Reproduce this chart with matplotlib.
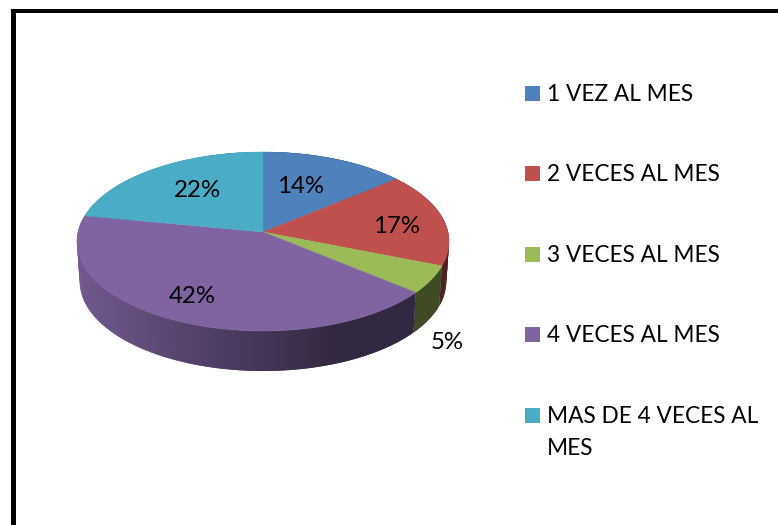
import numpy as np
import matplotlib
matplotlib.use("Agg")
import matplotlib.pyplot as plt
from matplotlib.patches import Polygon, Rectangle
from matplotlib.colors import to_rgb

# Data
categories = ["1 VEZ AL MES", "2 VECES AL MES", "3 VECES AL MES", "4 VECES AL MES", "MAS DE 4 VECES AL\nMES"]
percentages = [14, 17, 5, 42, 22]
colors = ["#4f81bd", "#c0504d", "#9bbb59", "#8064a2", "#4bacc6"]

# Layout (pixel space of the reference)
W, H = 778, 525
CX, CY = 263, 232
A, B, K = 185, 88.5, 0.106   # perspective projection of the disc
DEPTH = 40
FONT = "Lato"
FS = 16.3
FS_LABEL = 17.3
label_pos = [(301, 186.5), (396.5, 226.5), (447.5, 342.5), (192, 296.5), (197, 190.5)]
legend_y = [93, 173, 254, 334, 415]

fig = plt.figure(figsize=(W / 100, H / 100), dpi=100)
ax = fig.add_axes([0, 0, 1, 1])
ax.set_xlim(0, W)
ax.set_ylim(H, 0)
ax.axis("off")


def project(theta, radius=1.0, depth=0.0):
    """theta: clockwise from 12 o'clock, radians."""
    X, Y = radius * np.sin(theta), radius * np.cos(theta)
    d = 1 + K * Y
    scale = 1 - 0.015 * depth / DEPTH
    return CX + scale * A * X / d, CY - B * Y / d + depth


def shade(x):
    return np.clip(0.88 - 0.50 * (x - 80) / 270, 0.40, 0.88)


fractions = np.array(percentages, dtype=float) / sum(percentages)
edges = np.concatenate([[0], np.cumsum(fractions)]) * 2 * np.pi

# Sides: overlapping strips so that no seams appear between them
for i, col in enumerate(colors):
    base = np.array(to_rgb(col))
    n = max(int(np.degrees(edges[i + 1] - edges[i])), 2)
    th = np.linspace(edges[i], edges[i + 1], n + 1)
    for j in range(n - 1, -1, -1):
        t0, t1 = th[j], th[min(j + 2, n)]
        x0, y0 = project(t0)
        x1, y1 = project(t1)
        x2, y2 = project(t1, depth=DEPTH)
        x3, y3 = project(t0, depth=DEPTH)
        c = base * shade(x0)
        ax.add_patch(Polygon([(x0, y0), (x1, y1), (x2, y2), (x3, y3)],
                             closed=True, facecolor=c, edgecolor="none", zorder=2 + i * 0.01))

# Top faces
for i, col in enumerate(colors):
    th = np.linspace(edges[i], edges[i + 1], 120)
    xs, ys = project(th)
    pts = [(CX, CY)] + list(zip(xs, ys))
    ax.add_patch(Polygon(pts, closed=True, facecolor=col, edgecolor=col, linewidth=0.3, zorder=3))

# Percentage labels
for (x, y), p in zip(label_pos, percentages):
    ax.text(x, y, f"{p}%", ha="center", va="center", fontsize=FS_LABEL, family=FONT, color="#000000", zorder=5)

# Legend
for y, name, col in zip(legend_y, categories, colors):
    ax.add_patch(Rectangle((525, y - 7.5), 15, 15, facecolor=col, edgecolor="none", zorder=4))
    lines = name.split("\n")
    ax.text(547, y + 1.5, lines[0], ha="left", va="center",
            fontsize=FS, family=FONT, color="#000000", zorder=5)
    if len(lines) > 1:
        ax.text(547, y + 33.5, lines[1], ha="left", va="center",
                fontsize=FS, family=FONT, color="#000000", zorder=5)

# Outer frame
ax.add_patch(Rectangle((11, 9), W - 11, 3.5, facecolor="black", edgecolor="none", zorder=6))
ax.add_patch(Rectangle((11, 9), 5, H - 9, facecolor="black", edgecolor="none", zorder=6))

fig.savefig("out.png", dpi=100, facecolor="white")
